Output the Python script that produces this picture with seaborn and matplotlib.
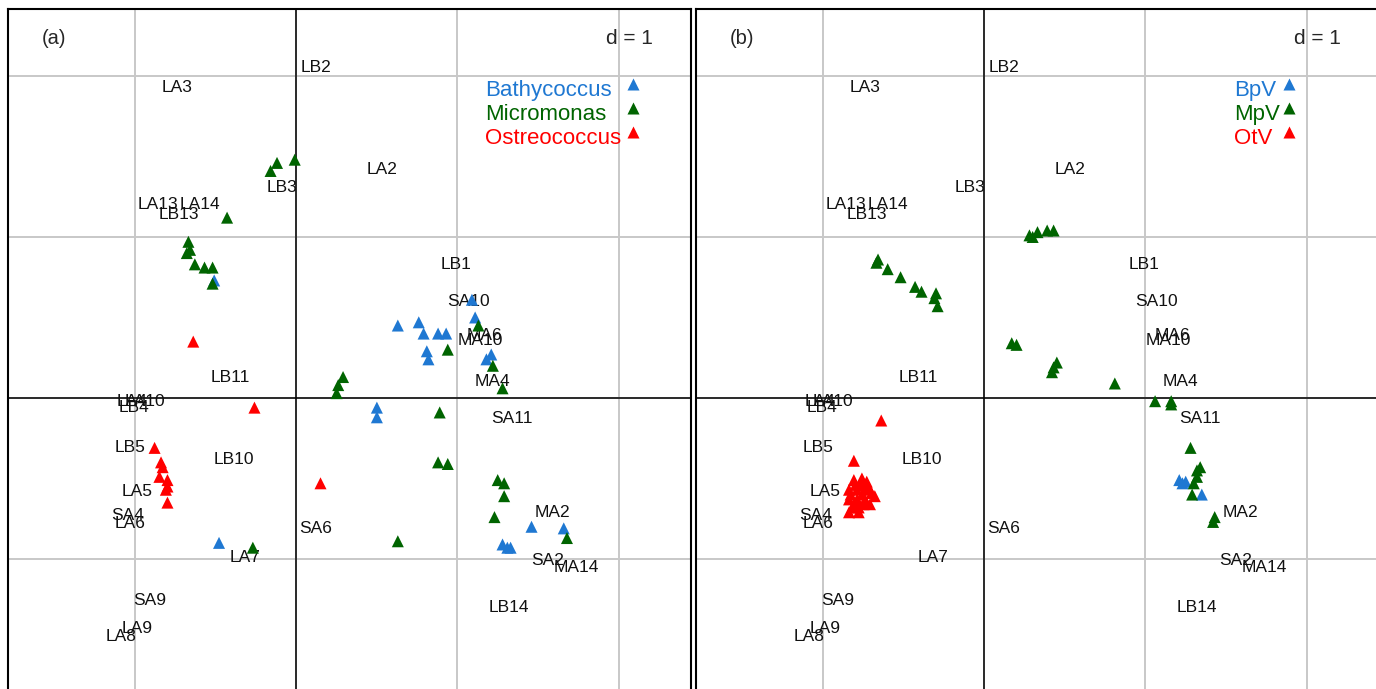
import pandas as pd
import matplotlib
matplotlib.use("Agg")
import matplotlib.pyplot as plt
import seaborn as sns

# site labels (same in both panels)
site_names = ["LA3", "LB2", "LA2", "LB3", "LA13", "LA14", "LB13", "LB1", "SA10",
              "MA6", "MA10", "LB11", "MA4", "LA4", "LA10", "LB4", "SA11", "LB5",
              "LB10", "LA5", "MA2", "SA4", "LA6", "SA6", "LA7", "SA2", "MA14",
              "SA9", "LA9", "LA8", "LB14"]
site_x = [-0.74, 0.12, 0.53, -0.09, -0.86, -0.60, -0.73, 0.99, 1.07,
          1.17, 1.14, -0.41, 1.22, -1.02, -0.94, -1.01, 1.34, -1.03,
          -0.39, -0.99, 1.59, -1.05, -1.03, 0.12, -0.32, 1.56, 1.74,
          -0.91, -0.99, -1.09, 1.32]
site_y = [1.93, 2.05, 1.42, 1.31, 1.20, 1.20, 1.14, 0.83, 0.60,
          0.39, 0.36, 0.13, 0.10, -0.02, -0.02, -0.06, -0.13, -0.31,
          -0.38, -0.58, -0.71, -0.73, -0.78, -0.81, -0.99, -1.01, -1.05,
          -1.26, -1.43, -1.48, -1.30]

# panel (a): host species
a_blue_x = [-0.51, 0.63, 0.76, 0.79, 0.88, 0.93, 0.81, 0.82, 1.09, 1.11,
            1.21, 1.18, 0.50, 0.50, -0.48, 1.46, 1.66, 1.28, 1.31, 1.33]
a_blue_y = [0.73, 0.45, 0.47, 0.40, 0.40, 0.40, 0.29, 0.24, 0.61, 0.50,
            0.27, 0.24, -0.06, -0.12, -0.90, -0.80, -0.81, -0.91, -0.93, -0.93]
a_green_x = [-0.16, -0.12, -0.01, -0.43, -0.67, -0.68, -0.66, -0.63, -0.57, -0.52,
             -0.52, 0.29, 0.26, 0.25, 1.13, 0.94, 1.22, 1.28, 0.89, 0.88,
             0.94, 1.25, 1.29, 1.29, 1.23, 1.68, 0.63, -0.27]
a_green_y = [1.41, 1.46, 1.48, 1.12, 0.97, 0.90, 0.92, 0.83, 0.81, 0.81,
             0.71, 0.13, 0.08, 0.03, 0.45, 0.30, 0.20, 0.06, -0.09, -0.40,
             -0.41, -0.51, -0.53, -0.61, -0.74, -0.87, -0.89, -0.93]
a_red_x = [-0.64, -0.26, -0.88, -0.84, -0.83, -0.85, -0.80, -0.80, -0.81, -0.80, 0.15]
a_red_y = [0.35, -0.06, -0.31, -0.40, -0.43, -0.49, -0.51, -0.55, -0.57, -0.65, -0.53]

# panel (b): viruses
b_blue_x = [1.21, 1.23, 1.25, 1.35]
b_blue_y = [-0.51, -0.53, -0.52, -0.60]
b_green_x = [-0.66, -0.67, -0.60, -0.52, -0.43, -0.39, -0.30, -0.31, -0.29,
             0.28, 0.33, 0.39, 0.43, 0.30, 0.17, 0.20, 0.45, 0.43, 0.42,
             0.81, 1.06, 1.16, 1.16, 1.28, 1.34, 1.32, 1.32, 1.30, 1.29, 1.43, 1.42]
b_green_y = [0.86, 0.84, 0.80, 0.75, 0.69, 0.66, 0.65, 0.62, 0.57,
             1.01, 1.03, 1.04, 1.04, 1.00, 0.34, 0.33, 0.22, 0.19, 0.16,
             0.09, -0.02, -0.04, -0.02, -0.31, -0.43, -0.45, -0.49, -0.53, -0.60, -0.74, -0.77]
b_red_x = [-0.64, -0.81, -0.81, -0.76, -0.73, -0.84, -0.79, -0.74, -0.70,
           -0.84, -0.79, -0.74, -0.82, -0.78, -0.84, -0.71, -0.68,
           -0.77, -0.80, -0.76, -0.72, -0.83, -0.75, -0.81, -0.78]
b_red_y = [-0.14, -0.39, -0.51, -0.50, -0.52, -0.57, -0.57, -0.57, -0.59,
           -0.63, -0.63, -0.63, -0.68, -0.68, -0.71, -0.66, -0.61,
           -0.54, -0.54, -0.60, -0.55, -0.60, -0.66, -0.66, -0.71]

a_groups = ["Bathycoccus", "Micromonas", "Ostreococcus"]
b_groups = ["BpV", "MpV", "OtV"]
colors = ["#1F78D2", "#006400", "#FF0000"]


def make_frame(groups, xs, ys):
    rows = []
    for g, x, y in zip(groups, xs, ys):
        rows.append(pd.DataFrame({"x": x, "y": y, "group": g}))
    return pd.concat(rows, ignore_index=True)


def draw_panel(ax, df, groups, tag, leg_text_x, leg_mark_x):
    ax.set_xlim(-1.79, 2.45)
    ax.set_ylim(-1.876, 2.416)
    ax.set_xticks([-1, 0, 1, 2])
    ax.set_yticks([-1, 0, 1, 2])
    ax.grid(True, color="#C8C8C8", linewidth=1.4)
    ax.set_axisbelow(True)
    ax.tick_params(length=0, labelbottom=False, labelleft=False)
    ax.axhline(0, color="black", linewidth=1.1, zorder=1)
    ax.axvline(0, color="black", linewidth=1.1, zorder=1)
    for sp in ax.spines.values():
        sp.set_color("black")
        sp.set_linewidth(1.5)

    for name, x, y in zip(site_names, site_x, site_y):
        ax.text(x, y, name, ha="center", va="center", fontsize=12.5,
                color="#111111", zorder=3)

    sns.scatterplot(data=df, x="x", y="y", hue="group", hue_order=groups,
                    palette=dict(zip(groups, colors)), marker="^", s=75,
                    linewidth=0, ax=ax, legend=False, zorder=4)
    ax.set_xlabel("")
    ax.set_ylabel("")

    ax.text(0.05, 0.958, tag, transform=ax.transAxes, ha="left", va="center",
            fontsize=14.5)
    ax.text(0.944, 0.958, "d = 1", transform=ax.transAxes, ha="right",
            va="center", fontsize=15)

    leg_y = [1.91, 1.76, 1.61]
    for g, c, ly in zip(groups, colors, leg_y):
        ax.text(leg_text_x, ly, g, color=c, fontsize=16, ha="left",
                va="center", zorder=5)
        ax.scatter([leg_mark_x], [ly + 0.04], marker="^", s=75, color=c,
                   linewidth=0, zorder=5)


sns.set_theme(style="white")
plt.rcParams["font.family"] = ["Liberation Sans", "DejaVu Sans"]

fig = plt.figure(figsize=(13.76, 6.89), dpi=100)
W, H = 1376, 689
top_px, bottom_px = 9, 700
ax_a = fig.add_axes([8 / W, (H - bottom_px) / H, 683 / W, (bottom_px - top_px) / H])
ax_b = fig.add_axes([696 / W, (H - bottom_px) / H, 683 / W, (bottom_px - top_px) / H])

df_a = make_frame(a_groups, [a_blue_x, a_green_x, a_red_x], [a_blue_y, a_green_y, a_red_y])
df_b = make_frame(b_groups, [b_blue_x, b_green_x, b_red_x], [b_blue_y, b_green_y, b_red_y])

draw_panel(ax_a, df_a, a_groups, "(a)", 1.17, 2.09)
draw_panel(ax_b, df_b, b_groups, "(b)", 1.55, 1.89)

fig.savefig("out.png", dpi=100)
